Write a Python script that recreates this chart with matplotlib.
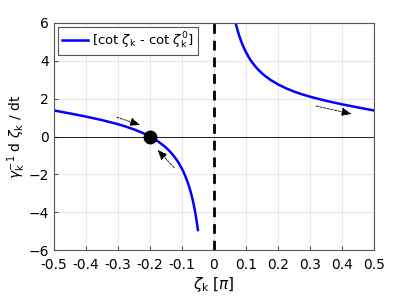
import matplotlib
matplotlib.use("Agg")
from matplotlib import pyplot as plt

# curve values (left and right branch)
x_left = [-0.5, -0.45, -0.4, -0.35, -0.3, -0.275, -0.25, -0.225, -0.2, -0.175,
          -0.16, -0.15, -0.14, -0.13, -0.12, -0.115, -0.11, -0.105, -0.1, -0.095,
          -0.09, -0.085, -0.08, -0.075, -0.07, -0.065, -0.06, -0.055, -0.05]
y_left = [1.376, 1.218, 1.052, 0.867, 0.650, 0.522, 0.376, 0.206, 0.0, -0.256,
          -0.446, -0.586, -0.749, -0.935, -1.150, -1.270, -1.396, -1.556, -1.701, -1.874,
          -2.073, -2.279, -2.519, -2.789, -3.098, -3.452, -3.866, -4.353, -4.938]
x_right = [0.0678, 0.07, 0.075, 0.08, 0.085, 0.09, 0.095, 0.1, 0.105, 0.11,
           0.115, 0.12, 0.13, 0.14, 0.15, 0.16, 0.175, 0.2, 0.225, 0.25,
           0.275, 0.3, 0.35, 0.4, 0.45, 0.5]
y_right = [6.0, 5.85, 5.542, 5.272, 5.032, 4.826, 4.627, 4.454, 4.308, 4.149,
           4.023, 3.903, 3.687, 3.502, 3.339, 3.199, 3.008, 2.753, 2.547, 2.376,
           2.230, 2.103, 1.886, 1.701, 1.535, 1.376]

fixed_point = (-0.2, 0.0)

# flow arrows: (tail, head)
arrows = [((-0.304, 1.02), (-0.231, 0.61)),
          ((-0.124, -1.65), (-0.176, -0.71)),
          ((0.319, 1.61), (0.43, 1.19))]

xticks = [-0.5, -0.4, -0.3, -0.2, -0.1, 0, 0.1, 0.2, 0.3, 0.4, 0.5]
xticklabels = ["-0.5", "-0.4", "-0.3", "-0.2", "-0.1", "0", "0.1", "0.2", "0.3", "0.4", "0.5"]
yticks = [-6, -4, -2, 0, 2, 4, 6]

fig = plt.figure(figsize=(4.15, 3.01), dpi=100)
ax = fig.add_axes([0.130, 0.169, 0.771, 0.755])

ax.grid(True, color="#e6e6e6", linewidth=0.8)
ax.set_axisbelow(True)

ax.axhline(0, color="black", linewidth=0.6)
ax.axvline(0, color="black", linewidth=2, linestyle=(0, (3.5, 2.5)))

ax.plot(x_left, y_left, color="blue", linewidth=1.8,
        label=r"[cot $\zeta_{\rm k}$ - cot $\zeta_{\rm k}^0$]")
ax.plot(x_right, y_right, color="blue", linewidth=1.8)

ax.plot(*fixed_point, "o", color="black", markersize=9, zorder=5)

for tail, head in arrows:
    ax.annotate("", xy=head, xytext=tail,
                arrowprops=dict(arrowstyle="-|>,head_length=0.6,head_width=0.25",
                                color="black", linestyle=(0, (3, 1.5)),
                                linewidth=0.6, shrinkA=0, shrinkB=0))

ax.set_xlim(-0.5, 0.5)
ax.set_ylim(-6, 6)
ax.set_xticks(xticks)
ax.set_xticklabels(xticklabels)
ax.set_yticks(yticks)
ax.tick_params(direction="in", labelsize=10, length=3, color="#555555")
ax.tick_params(axis="x", pad=6)
for s in ax.spines.values():
    s.set_color("#555555")
    s.set_linewidth(0.8)

ax.set_xlabel(r"$\zeta_{\rm k}$ [$\pi$]", fontsize=11, labelpad=2)
ax.set_ylabel(r"$\gamma_{\rm k}^{-1}$ d $\zeta_{\rm k}$ / dt", fontsize=10)
ax.yaxis.set_label_coords(-0.08, 0.5)

leg = ax.legend(loc="upper left", fontsize=9.5, fancybox=False, framealpha=1,
                edgecolor="#555555", handlelength=2.0, handletextpad=0.3,
                borderpad=0.3, borderaxespad=0.3)
leg.get_frame().set_linewidth(0.8)

fig.savefig("out.png", dpi=100)
